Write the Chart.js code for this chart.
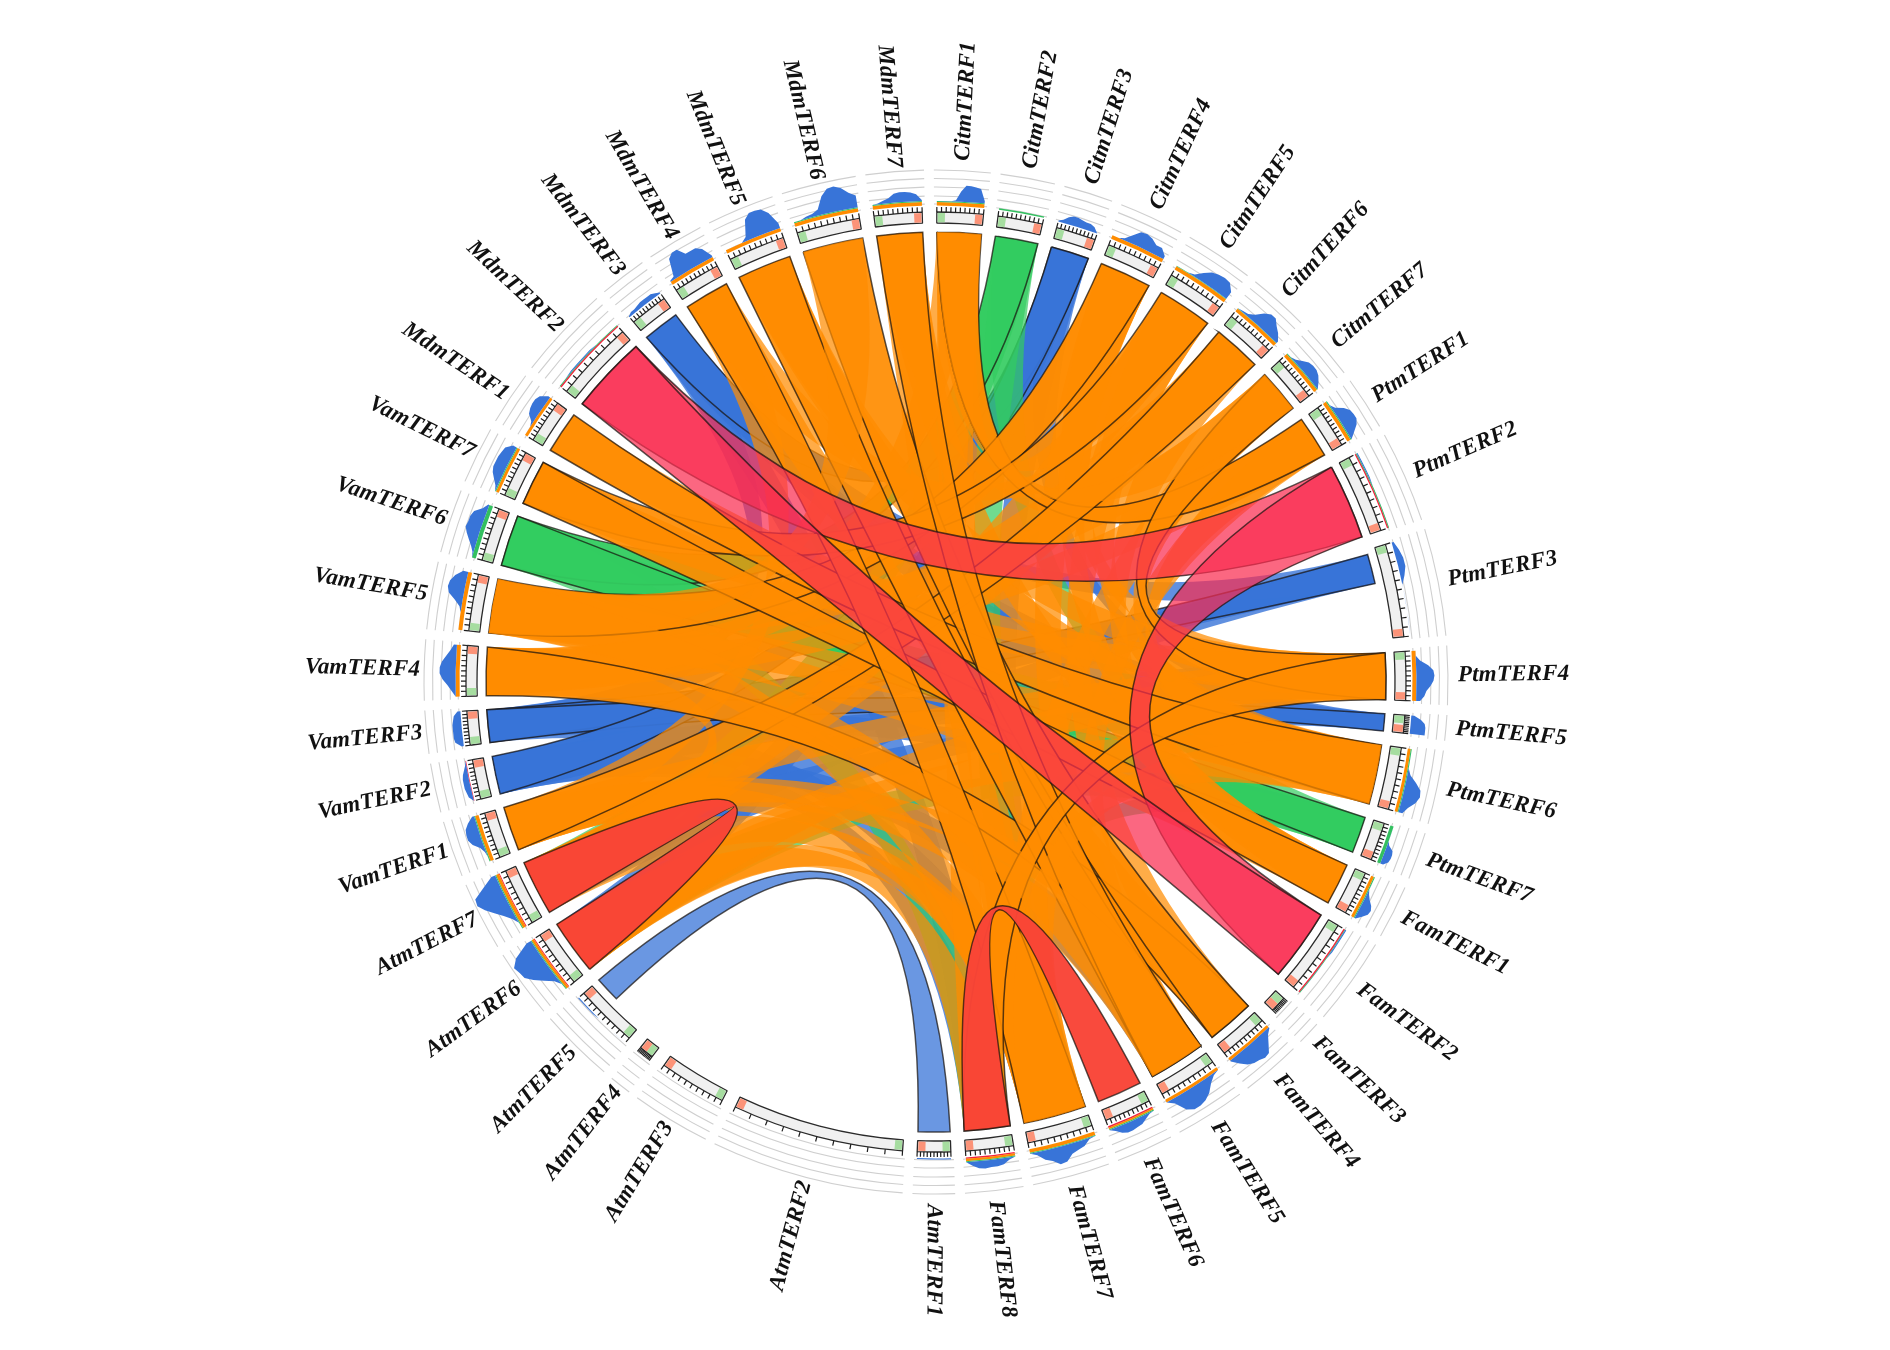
<!DOCTYPE html>
<html>
<head>
<meta charset="utf-8">
<title>TERF collinearity</title>
<script src="https://cdn.jsdelivr.net/npm/chart.js@4"></script>
<style>
  html, body { margin: 0; background: #fff; }
  canvas { display: block; }
</style>
</head>
<body>
<canvas id="circos" width="1890" height="1350"></canvas>
<script>
// Genes, clockwise from the top
const geneNames = [
  'CitmTERF1','CitmTERF2','CitmTERF3','CitmTERF4','CitmTERF5','CitmTERF6','CitmTERF7',
  'PtmTERF1','PtmTERF2','PtmTERF3','PtmTERF4','PtmTERF5','PtmTERF6','PtmTERF7',
  'FamTERF1','FamTERF2','FamTERF3','FamTERF4','FamTERF5','FamTERF6','FamTERF7','FamTERF8',
  'AtmTERF1','AtmTERF2','AtmTERF3','AtmTERF4','AtmTERF5','AtmTERF6','AtmTERF7',
  'VamTERF1','VamTERF2','VamTERF3','VamTERF4','VamTERF5','VamTERF6','VamTERF7',
  'MdmTERF1','MdmTERF2','MdmTERF3','MdmTERF4','MdmTERF5','MdmTERF6','MdmTERF7'
];
const geneLengths = [
  5.7,5.5,4.9,6.7,7.1,6.2,5.6,
  5.4,9.7,11.5,6.0,2.2,7.7,4.7,
  5.4,9.3,2.0,6.1,7.3,5.8,8.1,5.9,
  4.1,21.2,8.3,1.8,7.8,7.1,7.1,
  5.7,4.9,4.2,6.2,7.0,6.6,5.8,
  5.4,10.0,4.7,5.8,7.0,7.8,5.9
];
const geneGap = 1.786;

// Thin tracks outside the ticks, one value per gene
const redBand = [
  0,0,0,0,0,0,0,
  0,1.4,0,0,0,0,0,
  0,1.4,0,0,0,1.4,0,1.2,
  0,0,0,0,0,1,1,
  0,.7,0,0,0,0,0,
  0,1.4,0,0,0,0,0
];
const orangeBand = [
  3.6,0,0,3.8,3.8,3.6,3.6,
  3.6,0,0,4,0,3,0,
  3,0,0,3,3,1.8,3.6,2.4,
  0,0,0,0,0,2.4,3,
  3.6,0,0,4,4,0,3,
  3,0,0,3.6,3.6,3.6,3.6
];
const greenBand = [
  1,1.5,0,0,.5,.5,1,
  1.2,.8,0,0,0,1,3.4,
  1,.7,0,0,0,1,1,1,
  0,0,0,0,0,1,1,
  1,0,0,0,0,4,1,
  0,.8,0,0,0,1,1
];
// Blue coverage histogram, samples run clockwise through each gene
const coverage = [
  [0,0,0,0,1,10,16,16,15,14,2],
  [0,0],
  [1,3,7,9,9,8,7,7,5,0],
  [0,0,2,8,14,15,13,9,9,3],
  [0,0,0,2,8,13,15,16,15,8],
  [0,1,2,6,13,17,17,12,8,2],
  [0,0,2,6,10,11,11,9,5,0],
  [0,0,3,10,14,15,15,12,6,0],
  [1,1,1,1,0,0,0,0,0,0],
  [2,5,7,7,4,0,0,0,0,0,0,0],
  [0,0,4,12,17,18,17,14,10,8,4],
  [3,10,14,15,15,15],
  [0,0,0,0,3,10,16,17,14,8,4],
  [0,0,0,0,0,2,7,8,8,7,3],
  [0,0,0,0,2,5,9,11,10,6,1],
  [1,1,1,1,0,0,0,0,0,0],
  [0,0],
  [1,5,12,19,20,18,17,14,8,1],
  [0,2,7,14,18,20,20,16,5,0],
  [0,1,4,7,8,9,9,7,3,0],
  [0,1,6,8,10,16,17,12,9,3,0],
  [0,2,6,7,7,8,7,4,0],
  [1,1,1,1,1,1],
  [0,0],
  [0,0],
  [0,0],
  [0,0,0,0,0,0,1,1,1,1],
  [0,0,4,12,20,26,27,29,22,5],
  [0,0,4,10,17,24,29,28,16,4],
  [0,0,1,4,10,13,13,12,8,2],
  [0,4,5,6,6,6,5,3,1,0],
  [2,8,9,9,9,9,8,7,3],
  [0,4,8,13,16,16,14,10,6,3],
  [0,0,0,0,2,8,15,17,16,12,5],
  [0,1,4,8,12,15,14,14,12,5,1],
  [0,2,6,10,12,12,12,11,10,4],
  [0,0,0,2,8,10,11,11,9,2],
  [0,0,1,1,1,1,0,0,0,0],
  [1,3,3,4,5,5,5,5,3,1],
  [1,3,20,24,24,16,16,16,12,2],
  [0,0,0,0,4,20,25,25,24,18,5],
  [0,0,2,3,6,18,24,25,22,16,12],
  [0,1,3,5,9,10,10,9,7,1]
];

// Links, pairs of genes, weakest class first
const blueFaint = [
  ['CitmTERF3','PtmTERF5'],['CitmTERF3','VamTERF2'],['PtmTERF3','VamTERF2'],['PtmTERF5','VamTERF2'],
  ['MdmTERF3','PtmTERF5'],['MdmTERF3','VamTERF3'],['CitmTERF3','VamTERF3'],['PtmTERF3','MdmTERF3'],
  ['VamTERF2','FamTERF8'],['PtmTERF3','AtmTERF7'],['VamTERF3','FamTERF7'],['MdmTERF3','FamTERF8'],
  ['CitmTERF3','FamTERF7'],['VamTERF3','PtmTERF7'],['MdmTERF3','PtmTERF6'],['VamTERF2','FamTERF5'],
  ['CitmTERF3','AtmTERF6'],['PtmTERF5','AtmTERF7'],['VamTERF2','PtmTERF4']
];
const blueLinks = [
  ['CitmTERF3','MdmTERF3'],['PtmTERF3','VamTERF3'],['PtmTERF5','VamTERF3'],['CitmTERF3','VamTERF2']
];
const paleBlueLinks = [['AtmTERF1','AtmTERF5']];
const greenFaint = [
  ['CitmTERF2','PtmTERF7'],['CitmTERF2','AtmTERF7'],['PtmTERF7','FamTERF8'],['VamTERF6','FamTERF8'],
  ['CitmTERF2','FamTERF7'],['VamTERF6','PtmTERF6'],['PtmTERF7','AtmTERF6']
];
const greenLinks = [['CitmTERF2','VamTERF6'],['PtmTERF7','VamTERF6']];
const orangeFaint = [
  ['CitmTERF1','VamTERF4'],['CitmTERF1','FamTERF7'],
  ['CitmTERF4','FamTERF5'],['CitmTERF5','FamTERF4'],
  ['CitmTERF6','MdmTERF4'],['CitmTERF6','VamTERF4'],['CitmTERF6','FamTERF1'],
  ['CitmTERF7','VamTERF5'],['CitmTERF7','FamTERF7'],
  ['PtmTERF1','VamTERF4'],['PtmTERF1','MdmTERF7'],['PtmTERF1','FamTERF5'],
  ['PtmTERF4','MdmTERF1'],['PtmTERF4','VamTERF7'],['PtmTERF4','VamTERF1'],
  ['PtmTERF6','VamTERF5'],['PtmTERF6','MdmTERF5'],
  ['FamTERF1','VamTERF5'],['FamTERF4','VamTERF1'],['FamTERF5','VamTERF1'],
  ['FamTERF7','VamTERF1'],['FamTERF7','VamTERF5'],['FamTERF4','MdmTERF4'],
  ['FamTERF7','MdmTERF7'],['VamTERF1','MdmTERF4'],
  ['AtmTERF6','FamTERF7'],['AtmTERF7','FamTERF7'],['AtmTERF6','FamTERF8'],
  ['AtmTERF7','VamTERF4'],['AtmTERF7','CitmTERF6'],['AtmTERF6','PtmTERF6'],['AtmTERF6','PtmTERF4'],
  ['AtmTERF7','CitmTERF5'],['FamTERF8','CitmTERF1'],
  ['CitmTERF4','PtmTERF4'],['CitmTERF5','PtmTERF6'],['CitmTERF7','PtmTERF6'],
  ['CitmTERF1','CitmTERF5'],['PtmTERF1','PtmTERF6'],['VamTERF4','CitmTERF4'],
  ['MdmTERF5','PtmTERF4'],['MdmTERF7','FamTERF1'],['FamTERF1','CitmTERF4']
];
const orangeLinks = [
  ['CitmTERF1','PtmTERF1'],['CitmTERF4','VamTERF5'],['CitmTERF5','VamTERF7'],['CitmTERF6','VamTERF1'],
  ['CitmTERF7','PtmTERF4'],['PtmTERF6','MdmTERF1'],['FamTERF1','VamTERF7'],['FamTERF4','VamTERF4'],
  ['FamTERF5','MdmTERF5'],['FamTERF4','MdmTERF6'],['FamTERF7','MdmTERF4'],['FamTERF5','MdmTERF7'],
  ['PtmTERF4','FamTERF8']
];
// a few pale ribbons that lie over the outlined ones
const orangeOver = [['VamTERF5','MdmTERF6'],['FamTERF5','VamTERF5'],['FamTERF7','PtmTERF6'],['CitmTERF1','CitmTERF7']];
const redLinks = [['AtmTERF6','AtmTERF7'],['FamTERF6','FamTERF8']];
const crimsonLinks = [['PtmTERF2','MdmTERF2'],['PtmTERF2','FamTERF2'],['FamTERF2','MdmTERF2']];
// Part of a gene that its links leave from, where it isn't the whole gene
const linkSpans = { PtmTERF3: [0.05, 0.38], AtmTERF5: [0.58, 1] };

const ribbonRadius = 450, boxInner = 459, boxOuter = 470, tickOuter = 475;
const trackBase = 476.5, labelRadiusRight = 522, labelRadiusLeft = 516;
const ringRadii = [478, 486, 495, 503.5, 512];
const tickIntervals = 10;
const capDegrees = 1;
const pullToward = 0.028;

// Doughnut slices: gene, gap, gene, gap ...
const sliceValues = [];
const sliceFill = [];
const sliceBorder = [];
geneLengths.forEach(len => {
  sliceValues.push(len, geneGap);
  sliceFill.push('#f0f0f0', 'rgba(0,0,0,0)');
  sliceBorder.push('#2a2a2a', 'rgba(0,0,0,0)');
});

function geneArc(chart, name) {
  const i = geneNames.indexOf(name);
  return chart.getDatasetMeta(0).data[i * 2];
}

function ribbon(ctx, chart, pair, fill, stroke) {
  const a = geneArc(chart, pair[0]), b = geneArc(chart, pair[1]);
  const cx = a.x, cy = a.y;
  const span = (name, arc) => {
    const s = linkSpans[name] || [0, 1];
    const w = arc.endAngle - arc.startAngle;
    return [arc.startAngle + w * s[0], arc.startAngle + w * s[1]];
  };
  const [a0, a1] = span(pair[0], a);
  const [b0, b1] = span(pair[1], b);
  const px = ang => ribbonRadius * Math.cos(ang);
  const py = ang => ribbonRadius * Math.sin(ang);
  // control point sits near the centre, pulled a little toward the two ends
  const ctrl = (p, q) => [cx + pullToward * (px(p) + px(q)), cy + pullToward * (py(p) + py(q))];
  const c1 = ctrl(a1, b0), c2 = ctrl(b1, a0);
  ctx.beginPath();
  ctx.arc(cx, cy, ribbonRadius, a0, a1);
  ctx.quadraticCurveTo(c1[0], c1[1], cx + px(b0), cy + py(b0));
  ctx.arc(cx, cy, ribbonRadius, b0, b1);
  ctx.quadraticCurveTo(c2[0], c2[1], cx + px(a0), cy + py(a0));
  ctx.closePath();
  ctx.fillStyle = fill;
  ctx.fill();
  if (stroke) {
    ctx.strokeStyle = stroke;
    ctx.lineWidth = 1.5;
    ctx.stroke();
  }
}

const ribbonsPlugin = {
  id: 'ribbons',
  beforeDatasetsDraw(chart) {
    const ctx = chart.ctx;
    const edge = 'rgba(25,20,15,0.72)';
    const faintOrange = 'rgba(255,140,0,0.72)';
    ctx.save();
    blueFaint.forEach(p => ribbon(ctx, chart, p, 'rgba(56,116,216,0.8)'));
    blueLinks.forEach(p => ribbon(ctx, chart, p, 'rgba(56,116,216,0.95)', edge));
    paleBlueLinks.forEach(p => ribbon(ctx, chart, p, 'rgba(56,116,216,0.75)', edge));
    greenFaint.forEach(p => ribbon(ctx, chart, p, 'rgba(51,204,96,0.7)'));
    greenLinks.forEach(p => ribbon(ctx, chart, p, 'rgba(51,204,96,0.95)', edge));
    orangeFaint.forEach(p => ribbon(ctx, chart, p, faintOrange));
    orangeLinks.forEach(p => ribbon(ctx, chart, p, 'rgba(255,140,0,0.92)', edge));
    orangeOver.forEach(p => ribbon(ctx, chart, p, faintOrange));
    redLinks.forEach(p => ribbon(ctx, chart, p, 'rgba(249,68,55,0.97)', edge));
    crimsonLinks.forEach(p => ribbon(ctx, chart, p, 'rgba(250,45,80,0.72)', edge));
    ctx.restore();
  }
};

const tracksPlugin = {
  id: 'tracks',
  afterDatasetsDraw(chart) {
    const ctx = chart.ctx;
    ctx.save();
    geneNames.forEach((name, i) => {
      const arc = geneArc(chart, name);
      const cx = arc.x, cy = arc.y;
      const a0 = arc.startAngle, a1 = arc.endAngle;
      const w = a1 - a0;
      const cap = Math.min(capDegrees * Math.PI / 180, w / 2);

      // green and salmon end blocks
      const block = (from, to, color) => {
        ctx.beginPath();
        ctx.arc(cx, cy, boxOuter - 0.8, from, to);
        ctx.arc(cx, cy, boxInner + 0.8, to, from, true);
        ctx.closePath();
        ctx.fillStyle = color;
        ctx.fill();
      };
      block(a0 + 0.002, a0 + cap, '#a6dda0');
      block(a1 - cap, a1 - 0.002, '#fc9378');

      // ticks
      ctx.strokeStyle = '#1c1c1c';
      ctx.lineWidth = 1.2;
      for (let t = 0; t <= tickIntervals; t++) {
        const ang = a0 + w * t / tickIntervals;
        ctx.beginPath();
        ctx.moveTo(cx + boxOuter * Math.cos(ang), cy + boxOuter * Math.sin(ang));
        ctx.lineTo(cx + tickOuter * Math.cos(ang), cy + tickOuter * Math.sin(ang));
        ctx.stroke();
      }

      // grey rings
      ctx.strokeStyle = '#cfcfcf';
      ctx.lineWidth = 1.1;
      ringRadii.forEach(r => {
        ctx.beginPath();
        ctx.arc(cx, cy, r, a0 - 0.006, a1 + 0.006);
        ctx.stroke();
      });

      // stacked bands
      let r = trackBase;
      [[redBand, '#f5203c'], [orangeBand, '#ff8c00'], [greenBand, '#33c060']].forEach(([band, color]) => {
        if (band[i] > 0) {
          ctx.beginPath();
          ctx.arc(cx, cy, r + band[i], a0, a1);
          ctx.arc(cx, cy, r, a1, a0, true);
          ctx.closePath();
          ctx.fillStyle = color;
          ctx.fill();
          r += band[i];
        }
      });

      // coverage histogram
      const samples = coverage[i];
      if (Math.max(...samples) > 0) {
        ctx.beginPath();
        samples.forEach((v, k) => {
          const ang = a0 + w * k / (samples.length - 1);
          const rr = r + v;
          if (k === 0) ctx.moveTo(cx + rr * Math.cos(ang), cy + rr * Math.sin(ang));
          else ctx.lineTo(cx + rr * Math.cos(ang), cy + rr * Math.sin(ang));
        });
        ctx.arc(cx, cy, r, a1, a0, true);
        ctx.closePath();
        ctx.fillStyle = '#3874d8';
        ctx.fill();
      }

      // gene label, radial
      const mid = (a0 + a1) / 2;
      const clockDeg = ((mid + Math.PI / 2) * 180 / Math.PI + 360) % 360;
      const outward = clockDeg < 183;
      const labelRadius = outward ? labelRadiusRight : labelRadiusLeft;
      ctx.save();
      ctx.translate(cx + labelRadius * Math.cos(mid), cy + labelRadius * Math.sin(mid));
      ctx.rotate(outward ? mid : mid + Math.PI);
      ctx.textAlign = outward ? 'left' : 'right';
      ctx.textBaseline = 'middle';
      ctx.font = 'italic bold 23px "Liberation Serif"';
      ctx.letterSpacing = '0.2px';
      ctx.fillStyle = '#111';
      ctx.fillText(name, 0, 0);
      ctx.restore();
    });
    ctx.restore();
  }
};

new Chart(document.getElementById('circos').getContext('2d'), {
  type: 'doughnut',
  data: {
    labels: geneNames.flatMap(n => [n, '']),
    datasets: [{
      data: sliceValues,
      backgroundColor: sliceFill,
      borderColor: sliceBorder,
      borderWidth: 1.3,
      borderAlign: 'center'
    }]
  },
  options: {
    responsive: false,
    animation: false,
    events: [],
    rotation: 0.1,
    radius: boxOuter,
    cutout: (boxInner / boxOuter * 100) + '%',
    layout: { padding: { right: 18, top: 14 } },
    plugins: { legend: { display: false }, tooltip: { enabled: false } }
  },
  plugins: [ribbonsPlugin, tracksPlugin]
});
</script>
</body>
</html>
